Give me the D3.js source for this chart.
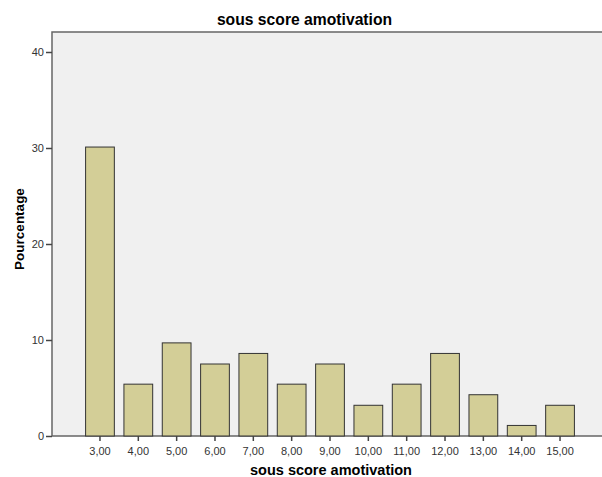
<!DOCTYPE html>
<html>
<head>
<meta charset="utf-8">
<script src="https://cdn.jsdelivr.net/npm/d3@7"></script>
<style>
  body { margin: 0; background: #fff; }
  text { font-family: Arial, "Liberation Sans", sans-serif; }
</style>
</head>
<body>
<div id="chart"></div>
<script>
var categories = ["3,00", "4,00", "5,00", "6,00", "7,00", "8,00", "9,00",
                  "10,00", "11,00", "12,00", "13,00", "14,00", "15,00"];
var percents = [30.1, 5.4, 9.7, 7.5, 8.6, 5.4, 7.5, 3.2, 5.4, 8.6, 4.3, 1.1, 3.2];
var yTicks = [0, 10, 20, 30, 40];

var width = 602, height = 477;
var plot = {left: 52, top: 32, right: 602, bottom: 436};

var svg = d3.select("#chart").append("svg")
    .attr("width", width)
    .attr("height", height);

var x = d3.scaleBand()
    .domain(categories)
    .range([80.8, 579.2])
    .paddingInner(0.25)
    .paddingOuter(0.125);

var y = d3.scaleLinear()
    .domain([0, 40])
    .range([plot.bottom, 52]);

// plot background
svg.append("rect")
    .attr("x", plot.left)
    .attr("y", plot.top)
    .attr("width", plot.right - plot.left + 2)
    .attr("height", plot.bottom - plot.top)
    .attr("fill", "#f0f0f0")
    .attr("stroke", "#666")
    .attr("stroke-width", 1.5);

svg.selectAll("rect.bar")
    .data(percents)
  .enter().append("rect")
    .attr("class", "bar")
    .attr("x", function(d, i) { return x(categories[i]); })
    .attr("y", function(d) { return y(d); })
    .attr("width", x.bandwidth())
    .attr("height", function(d) { return y(0) - y(d); })
    .attr("fill", "#d3ce97")
    .attr("stroke", "#333")
    .attr("stroke-width", 1);

// y axis
var yAxis = svg.append("g")
    .attr("transform", "translate(" + plot.left + ",0)")
    .call(d3.axisLeft(y).tickValues(yTicks).tickSize(6).tickPadding(2));
yAxis.select(".domain").remove();
yAxis.selectAll("line").attr("stroke", "#444").attr("stroke-width", 1.5);
yAxis.selectAll("text").attr("font-size", 11).attr("fill", "#333")
    .style("font-family", "Arial, 'Liberation Sans', sans-serif");

// x axis
var xAxis = svg.append("g")
    .attr("transform", "translate(0," + plot.bottom + ")")
    .call(d3.axisBottom(x).tickSize(5).tickPadding(6));
xAxis.select(".domain").remove();
xAxis.selectAll("line").attr("stroke", "#444").attr("stroke-width", 1.5);
xAxis.selectAll("text").attr("font-size", 11).attr("fill", "#333")
    .style("font-family", "Arial, 'Liberation Sans', sans-serif");

// titles
svg.append("text")
    .attr("x", 304.5)
    .attr("y", 25)
    .attr("text-anchor", "middle")
    .attr("font-size", 15.7)
    .attr("font-weight", "bold")
    .text("sous score amotivation");

svg.append("text")
    .attr("x", 331)
    .attr("y", 475)
    .attr("text-anchor", "middle")
    .attr("font-size", 14.5)
    .attr("font-weight", "bold")
    .text("sous score amotivation");

svg.append("text")
    .attr("transform", "translate(24,229)rotate(-90)")
    .attr("text-anchor", "middle")
    .attr("font-size", 13.5)
    .attr("font-weight", "bold")
    .text("Pourcentage");
</script>
</body>
</html>
